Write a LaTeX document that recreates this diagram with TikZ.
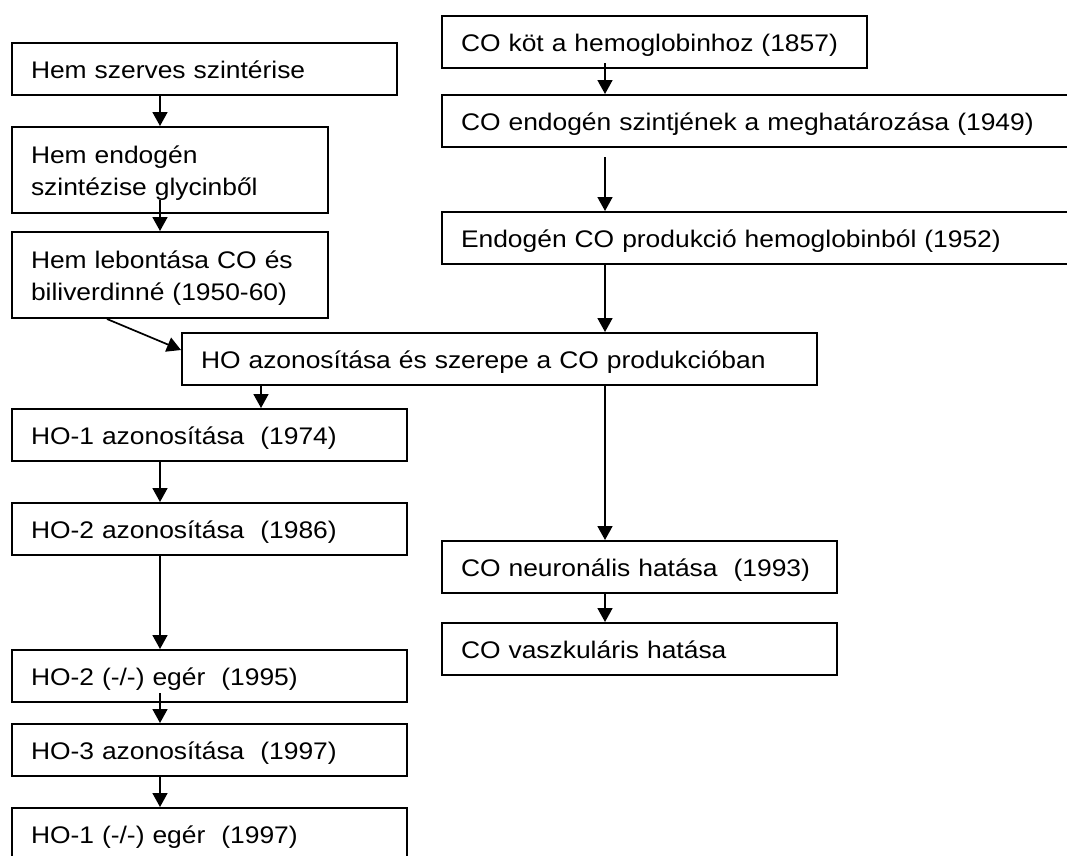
\documentclass[tikz,border=0pt]{standalone}
\usepackage{fontspec}
\setmainfont{Liberation Sans}[FakeStretch=1.1]
\usetikzlibrary{arrows.meta}
\tikzset{
  stage/.style={draw, line width=2pt, anchor=north west, align=left,
    inner xsep=19pt, inner ysep=0pt, text width=#1, text height=23pt,
    font=\fontsize{24}{32}\selectfont},
  event/.style={stage=#1, text depth=5pt, minimum height=52pt},
  event2/.style={stage=#1, minimum height=86pt},
  flow/.style={-{Triangle[length=14pt,width=15pt]}, line width=1.7pt}
}
\begin{document}
\begin{tikzpicture}[x=1pt, y=-1pt]
\useasboundingbox[fill=white] (0,0) rectangle (1067,855);
\clip (0,0) rectangle (1067,855);
\coordinate (colL) at (160,0);
\coordinate (colM) at (261,0);
\coordinate (colR) at (605,0);

\node[event=347pt] (hemsz) at (11,42) {Hem szerves szintérise};
\node[event2=278pt] (hemend) at (11,126) {Hem endogén\\szintézise glycinből};
\node[event2=278pt] (hemleb) at (11,231) {Hem lebontása CO és\\biliverdinné (1950-60)};
\node[event=597pt] (ho) at (181,332) {HO azonosítása és szerepe a CO produkcióban};
\node[event=357pt] (ho1) at (11,408) {HO-1 azonosítása\ \ (1974)};
\node[event=357pt] (ho2) at (11,502) {HO-2 azonosítása\ \ (1986)};
\node[event=357pt] (ho2ko) at (11,649) {HO-2 (-/-) egér\ \ (1995)};
\node[event=357pt] (ho3) at (11,723) {HO-3 azonosítása\ \ (1997)};
\node[event=357pt] (ho1ko) at (11,807) {HO-1 (-/-) egér\ \ (1997)};

\node[event=387pt] (cokot) at (441,15) {CO köt a hemoglobinhoz (1857)};
\node[event=596pt] (coendo) at (441,94) {CO endogén szintjének a meghatározása (1949)};
\node[event=596pt] (endoco) at (441,211) {Endogén CO produkció hemoglobinból (1952)};
\node[event=357pt] (coneur) at (441,540) {CO neuronális hatása\ \ (1993)};
\node[event=357pt] (covasz) at (441,622) {CO vaszkuláris hatása};

\draw[flow] (hemsz.south -| colL) -- (hemend.north -| colL);
\draw[flow] ([yshift=14pt]hemend.south -| colL) -- (hemleb.north -| colL);
\draw[flow] ([xshift=96pt]hemleb.south west) -- ([yshift=9pt]ho.west);
\draw[flow] ([yshift=6pt]cokot.south -| colR) -- (coendo.north -| colR);
\draw[flow] ([yshift=-9pt]coendo.south -| colR) -- (endoco.north -| colR);
\draw[flow] (endoco.south -| colR) -- (ho.north -| colR);
\draw[flow] (ho.south -| colR) -- (coneur.north -| colR);
\draw[flow] (coneur.south -| colR) -- (covasz.north -| colR);
\draw[flow] (ho.south -| colM) -- (ho1.north -| colM);
\draw[flow] (ho1.south -| colL) -- (ho2.north -| colL);
\draw[flow] (ho2.south -| colL) -- (ho2ko.north -| colL);
\draw[flow] ([yshift=10pt]ho2ko.south -| colL) -- (ho3.north -| colL);
\draw[flow] (ho3.south -| colL) -- (ho1ko.north -| colL);
\end{tikzpicture}
\end{document}
